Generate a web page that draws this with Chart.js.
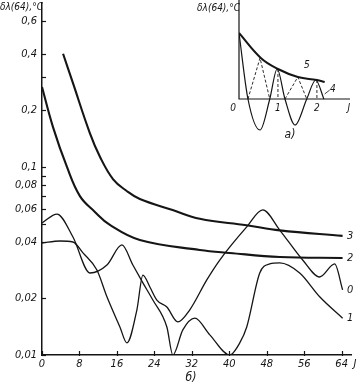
<!DOCTYPE html>
<html><head><meta charset="utf-8">
<script src="https://cdn.jsdelivr.net/npm/chart.js@4"></script>
<style>
html,body{margin:0;padding:0;background:#fff;}
#wrap{position:relative;width:360px;height:384px;overflow:hidden;}
#main{position:absolute;left:0;top:0;}
#inset{position:absolute;left:180px;top:0;}
</style></head><body>
<div id="wrap"><canvas id="main" width="360" height="384"></canvas><canvas id="inset" width="180" height="145"></canvas></div>
<script>
// ---- main chart (б) data ----
const J3 = [4.5, 6.6, 10.2, 12.4, 15.2, 18.1, 20.9, 27.9, 33.7, 43.7, 50.8, 64.2];
const V3 = [0.40, 0.28, 0.152, 0.113, 0.086, 0.0745, 0.0675, 0.059, 0.053, 0.049, 0.046, 0.043];

const J2 = [0, 2.35, 5.33, 8.1, 11.3, 14.5, 20.9, 33.7, 40.1, 50.8, 64.2];
const V2 = [0.266, 0.163, 0.100, 0.0700, 0.0577, 0.0492, 0.0409, 0.0362, 0.0349, 0.0332, 0.0328];

const J0 = [0, 3.84, 6.61, 8.75, 11.73, 13.87, 16.64, 18.13, 20.27, 21.55, 23.04, 24.53, 26.67, 29.01, 31.57, 35.2, 37.97, 43.73, 47.15, 50.77, 55.68, 59.31, 62.51, 64.21];
const V0 = [0.0394, 0.0404, 0.0399, 0.0349, 0.0283, 0.0204, 0.0141, 0.0116, 0.0174, 0.0266, 0.0230, 0.0196, 0.0180, 0.0150, 0.0174, 0.0251, 0.0320, 0.0480, 0.0591, 0.0462, 0.0320, 0.0260, 0.0305, 0.0222];

const J1 = [0, 3.2, 6.61, 10.24, 13.87, 17.07, 19.41, 21.55, 23.68, 26.67, 27.95, 30.08, 32.64, 35.84, 40.1, 42.24, 43.73, 46.51, 48.64, 50.77, 55.04, 59.31, 64.21];
const V1 = [0.0504, 0.0562, 0.0424, 0.0273, 0.0301, 0.0385, 0.0301, 0.0242, 0.0196, 0.0141, 0.0100, 0.0136, 0.0157, 0.0128, 0.0100, 0.0116, 0.0141, 0.0273, 0.0305, 0.0309, 0.0273, 0.0204, 0.0157];

const CURVE_LABELS = ['3', '2', '0', '1'];
const X_TICKS = [0, 8, 16, 24, 32, 40, 48, 56, 64];
const Y_TICKS = [0.01, 0.02, 0.04, 0.06, 0.08, 0.1, 0.2, 0.4, 0.6];
const Y_MINOR = [0.05, 0.07, 0.09, 0.3];

// ---- inset (а) data ----
const U_ENV = [0, 0.56, 1.0, 1.51, 2.0, 2.2];
const V_ENV = [6.6, 4.1, 3.0, 2.2, 1.9, 1.7];
const U_SOL = [0, 0.23, 0.54, 0.79, 0.98, 1.18, 1.44, 1.74, 1.97, 2.18];
const V_SOL = [6.6, 0, -3.1, 0, 3.0, 0, -2.6, 0, 1.9, 0];
const U_DASH = [0.23, 0.54, 0.79, null, 1.0, 1.0, null, 1.18, 1.51, 1.74, null, 2.0, 2.0];
const V_DASH = [0, 4.1, 0, null, 3.0, 0, null, 0, 2.2, 0, null, 1.9, 0];
const INSET_X_LABELS = ['0', '1', '2'];

const INK = '#151515';
const FONT = '"DejaVu Sans Condensed", "Liberation Sans Narrow", "DejaVu Sans", sans-serif';

function pts(xs, ys) { return xs.map((x, i) => (x === null ? {x: NaN, y: NaN} : {x: x, y: ys[i]})); }
function ds(xs, ys, w, extra) {
  return Object.assign({data: pts(xs, ys), borderColor: INK, borderWidth: w, pointRadius: 0,
    fill: false, cubicInterpolationMode: 'monotone', spanGaps: false}, extra || {});
}
const SMOOTH = {cubicInterpolationMode: 'default', tension: 0.4};

const mainDeco = {
  id: 'mainDeco',
  afterDraw(chart) {
    const c = chart.ctx, xs = chart.scales.x, ys = chart.scales.y, a = chart.chartArea;
    c.save();
    c.strokeStyle = INK; c.lineWidth = 1.2;
    Y_TICKS.concat(Y_MINOR).forEach(v => {
      const py = Math.round(ys.getPixelForValue(v)) + 0.5;
      c.beginPath(); c.moveTo(a.left, py); c.lineTo(a.left + 4, py); c.stroke();
    });
    X_TICKS.forEach(v => {
      const px = Math.round(xs.getPixelForValue(v)) + 0.5;
      c.beginPath(); c.moveTo(px, a.bottom - 4); c.lineTo(px, a.bottom + 1); c.stroke();
    });
    c.fillStyle = INK;
    c.font = 'italic 11px ' + FONT;
    c.textBaseline = 'middle'; c.textAlign = 'center';
    chart.data.datasets.forEach((d, i) => {
      const last = d.data[d.data.length - 1];
      c.fillText(CURVE_LABELS[i], xs.getPixelForValue(65.8), ys.getPixelForValue(last.y));
    });
    c.fillText('J', 355, 364);
    c.font = 'italic 12px ' + FONT;
    c.fillText('б)', 191, 378);
    c.font = 'italic 10px ' + FONT;
    c.textAlign = 'left';
    c.fillText('δλ(64),°C', 0, 7);
    c.restore();
  }
};

new Chart(document.getElementById('main'), {
  type: 'line',
  data: {datasets: [ds(J3, V3, 2.1, SMOOTH), ds(J2, V2, 2.1, SMOOTH), ds(J0, V0, 1.3), ds(J1, V1, 1.3)]},
  options: {
    responsive: false, animation: false, events: [],
    layout: {padding: {left: 0, right: 9, top: 3, bottom: 0}},
    plugins: {legend: {display: false}, tooltip: {enabled: false}},
    scales: {
      x: {
        type: 'linear', min: 0, max: 66,
        grid: {display: false, drawTicks: false},
        border: {display: true, color: INK, width: 1.5},
        afterBuildTicks: s => { s.ticks = X_TICKS.map(v => ({value: v})); },
        afterFit: s => { s.height = 29; s.paddingLeft = 0; s.paddingRight = 0; },
        ticks: {autoSkip: false, maxRotation: 0, padding: 3, color: INK,
          font: {family: FONT, size: 11, style: 'italic'}}
      },
      y: {
        type: 'logarithmic', min: 0.01, max: 0.745,
        grid: {display: false, drawTicks: false},
        border: {display: true, color: INK, width: 1.5},
        afterBuildTicks: s => { s.ticks = Y_TICKS.map(v => ({value: v})); },
        afterFit: s => { s.width = 42; s.paddingTop = 0; s.paddingBottom = 0; },
        ticks: {autoSkip: false, padding: 5, color: INK,
          font: {family: FONT, size: 11, style: 'italic'},
          callback: v => String(v).replace('.', ',')}
      }
    }
  },
  plugins: [mainDeco]
});

const insetDeco = {
  id: 'insetDeco',
  afterDraw(chart) {
    const c = chart.ctx, xs = chart.scales.x, ys = chart.scales.y;
    c.save();
    c.strokeStyle = INK; c.lineWidth = 1.2;
    const x0 = xs.getPixelForValue(0), y0 = ys.getPixelForValue(0);
    c.beginPath(); c.moveTo(x0, ys.getPixelForValue(ys.max)); c.lineTo(x0, y0);
    c.lineTo(xs.getPixelForValue(xs.max), y0); c.stroke();
    c.lineWidth = 0.8;
    c.beginPath(); c.moveTo(xs.getPixelForValue(2.2), ys.getPixelForValue(0.5)); c.lineTo(xs.getPixelForValue(2.33), ys.getPixelForValue(0.9)); c.stroke();
    c.fillStyle = INK;
    c.font = 'italic 10px ' + FONT;
    c.textAlign = 'center'; c.textBaseline = 'middle';
    INSET_X_LABELS.forEach((t, i) => {
      const px = i === 0 ? x0 - 6 : xs.getPixelForValue(i);
      c.fillText(t, px, y0 + 9);
    });
    c.fillText('J', xs.getPixelForValue(2.82), y0 + 9);
    c.fillText('5', xs.getPixelForValue(1.74), ys.getPixelForValue(3.4));
    c.fillText('4', xs.getPixelForValue(2.41), ys.getPixelForValue(1.0));
    c.font = 'italic 12px ' + FONT;
    c.fillText('а)', xs.getPixelForValue(1.31), ys.getPixelForValue(-3.6));
    c.font = 'italic 10px ' + FONT;
    c.textAlign = 'right';
    c.fillText('δλ(64),°C', x0 + 1, 8);
    c.restore();
  }
};

new Chart(document.getElementById('inset'), {
  type: 'line',
  data: {datasets: [
    ds(U_ENV, V_ENV, 2.0, SMOOTH),
    ds(U_SOL, V_SOL, 1.2),
    ds(U_DASH, V_DASH, 0.9, {borderDash: [3, 2], cubicInterpolationMode: 'default', tension: 0})
  ]},
  options: {
    responsive: false, animation: false, events: [],
    layout: {padding: {left: 59, right: 10, top: 0, bottom: 10}},
    plugins: {legend: {display: false}, tooltip: {enabled: false}},
    scales: {
      x: {type: 'linear', min: 0, max: 2.85, display: false},
      y: {type: 'linear', min: -3.6, max: 9.9, display: false}
    }
  },
  plugins: [insetDeco]
});
</script>
</body></html>
